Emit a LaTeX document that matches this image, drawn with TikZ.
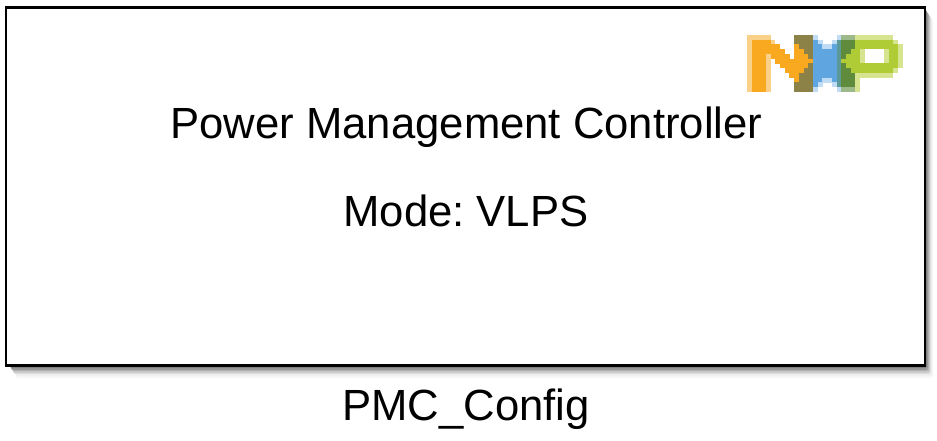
\documentclass[tikz,border=0pt]{standalone}
\usepackage{fontspec}
\setmainfont{Liberation Sans}
\frenchspacing
\definecolor{logol}{HTML}{FBD088}
\definecolor{logoo}{HTML}{F9A91F}
\definecolor{logob}{HTML}{8C8248}
\definecolor{logoB}{HTML}{5FA5E0}
\definecolor{logoc}{HTML}{C0DCF4}
\definecolor{logoH}{HTML}{5C9A9A}
\definecolor{logog}{HTML}{5E8C3C}
\definecolor{logoG}{HTML}{9DB98A}
\definecolor{logoL}{HTML}{AFCB35}
\definecolor{logom}{HTML}{D6E490}
\newcount\logox
\def\logocell#1{\ifx#1!\else
  \if#1w\else
    \fill[logo#1] ({747+4.72*\the\logox-0.1},{35+4.75*\logorowno-0.1}) rectangle ++(4.92,4.95);
  \fi
  \advance\logox by 1
  \expandafter\logocell\fi}
\tikzset{
  blockbox/.style={draw=black,line width=2.8pt,fill=white},
  blocktext/.style={font=\fontsize{43.65}{48}\selectfont,text=black,inner sep=0pt,anchor=base}
}
\begin{document}
\begin{tikzpicture}[x=1pt,y=-1pt]
\useasboundingbox (0,0) rectangle (937,441);
% soft shadow
\foreach \dx/\dy/\c in {8/12/3,7/10/6,6/8/12,5/7/20,4/5/30,3/4/40,2/2/50}{
  \fill[black!\c,rounded corners=2pt] (8+\dx,8+\dy) rectangle (925+\dx,366+\dy);
}
\node[blockbox,minimum width=919pt,minimum height=358pt,inner sep=0pt,anchor=north west,outer sep=0pt] (block) at (6,7.8) {};
% logo mosaic
\foreach \logorowno/\logorowtext in {
  0/lllllwwwwwbbbbcwwwwcGGGmmmmmmmmww,
  1/loooolwwwwbbbbBcwwcHgggLLLLLLLLmw,
  2/loooooowwwobbbBBccBHgggLLLLLLLLLm,
  3/looooooowwoobbBBBBBHggLLmwwwwmLLm,
  4/loooloooowooobBBBBBHgLLLmwwwwmLLm,
  5/looolwooooooooBBBBBHLLLLmwwwwmLLm,
  6/looolwwoooooobBBBBBHgLLLLLLLLLLLm,
  7/looolwwwoooobbBBBBBHggLLLLLLLLLmw,
  8/looolwwwwoobbbBBBBBHgggmmmmmmmmww,
  9/looolwwwwwobbbBBccBHgggmwwwwwwwww,
  10/looolwwwwwbbbbBcwwcHgggmwwwwwwwww,
  11/looolwwwwwbbbbcwwwwcGGGmwwwwwwwww}{
  \logox=0
  \expandafter\logocell\logorowtext!
}
\node[blocktext] (title) at (466.5,138.5) {Power Management Controller};
\node[blocktext] (mode) at (466,226) {Mode: VLPS};
\node[blocktext] (name) at (466,420) {PMC\_Config};
\end{tikzpicture}
\end{document}
